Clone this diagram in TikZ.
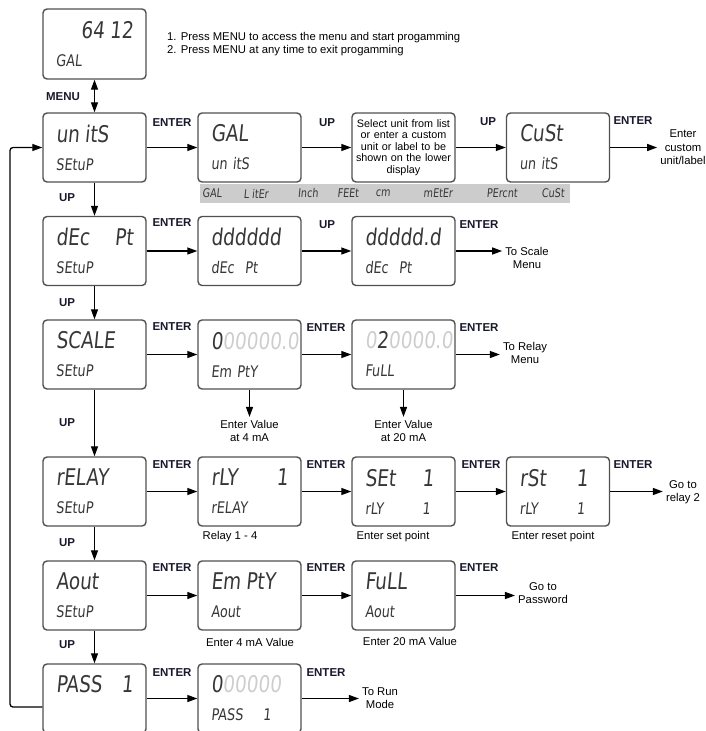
\documentclass[tikz,border=0pt]{standalone}
\usepackage{fontspec}
\setmainfont{Liberation Sans}
\newfontfamily\lcdfont[FakeSlant=0.1,FakeStretch=0.8]{DejaVu Sans}
\usepackage{tikz}
\usetikzlibrary{arrows.meta,positioning}
\definecolor{lcdcolor}{RGB}{55,55,55}
\definecolor{dimcolor}{RGB}{205,205,205}
\definecolor{framecolor}{RGB}{80,80,80}
\definecolor{stripcolor}{RGB}{204,204,204}
\definecolor{keycolor}{RGB}{25,25,45}

\newcommand{\lcdbig}{\fontsize{23}{28}\selectfont}
\newcommand{\lcdsmall}{\fontsize{16}{28}\selectfont}
\newcommand{\dimd}[1]{\textcolor{dimcolor}{#1}}
\newcommand{\lcd}[2]{{\lcdbig #1}\\{\lcdsmall #2}}

\tikzset{
  display/.style={draw=framecolor, line width=1.4pt, rounded corners=4pt,
    minimum width=103pt, minimum height=69pt, text width=77pt, inner sep=0pt,
    align=left, text=lcdcolor, font=\lcdfont\fontsize{16}{28}\selectfont},
  key/.style={font=\fontsize{11.5}{12}\selectfont\bfseries, text=keycolor, inner sep=0pt},
  note/.style={font=\fontsize{11.3}{13.5}\selectfont, align=center, inner sep=3pt},
  flow/.style={line width=1.3pt, -{Triangle[length=10pt,width=7pt]}},
  unitword/.style={font=\lcdfont\fontsize{12}{12}\selectfont, text=lcdcolor, inner sep=0pt},
}

\begin{document}
\begin{tikzpicture}[x=1pt,y=-1pt]
    \clip (0,0) rectangle (706,731);

    % first column
    \node[display, minimum height=70pt] (run) at (94.5,44) {\lcd{\hfill 64 12}{GAL}};
    \node[display] (units) at (94.5,147.5) {\lcd{un itS}{SEtuP}};
    \node[display] (decpt) at (94.5,251) {\lcd{dEc\hfill Pt}{SEtuP}};
    \node[display] (scale) at (94.5,354.5) {\lcd{SCALE}{SEtuP}};
    \node[display] (relay) at (94.5,491.5) {\lcd{rELAY}{SEtuP}};
    \node[display] (aout) at (94.5,595.5) {\lcd{Aout}{SEtuP}};
    \node[display] (pass) at (94.5,698.5) {\lcd{PASS\hfill 1}{\phantom{S}}};

    % second column
    \node[display] (gal) at (249.5,147.5) {\lcd{GAL}{un itS}};
    \node[display] (digits) at (249.5,251) {\lcd{dddddd}{dEc\ \ Pt}};
    \node[display] (empty) at (249.5,354.5) {\lcd{0\dimd{00000.0}}{Em PtY}};
    \node[display] (rlyno) at (249.5,491.5) {\lcd{rLY\hfill 1}{rELAY}};
    \node[display] (aempty) at (249.5,595.5) {\lcd{Em PtY}{Aout}};
    \node[display] (code) at (249.5,698.5) {\lcd{0\dimd{00000}}{\makebox[52pt][l]{PASS}1}};

    % third column
    \node[display, text=black, align=center, text width=103pt, font=\fontsize{10.8}{11.6}\selectfont] (select) at (403.5,147.5)
        {Select unit from list\\or enter a custom\\unit or label to be\\shown on the lower\\display};
    \node[display] (point) at (403.5,251) {\lcd{ddddd.d}{dEc\ \ Pt}};
    \node[display] (full) at (403.5,354.5) {\lcd{\dimd{0}2\dimd{0000.0}}{FuLL}};
    \node[display] (setpt) at (403.5,491.5) {\lcd{\makebox[57pt][l]{SEt}1}{\makebox[57pt][l]{rLY}1}};
    \node[display] (afull) at (403.5,595.5) {\lcd{FuLL}{Aout}};

    % fourth column
    \node[display] (cust) at (558,147.5) {\lcd{CuSt}{un itS}};
    \node[display] (reset) at (558,491.5) {\lcd{\makebox[57pt][l]{rSt}1}{\makebox[57pt][l]{rLY}1}};

    % list of units
    \node[fill=stripcolor, minimum width=370pt, minimum height=19pt, inner sep=0pt] (unitlist) at (385,193.5) {};
    \node[unitword] (ugal) at (212,193.5) {GAL};
    \node[unitword] (uliter) at (256,193.5) {L itEr};
    \node[unitword] (uinch) at (308,193.5) {Inch};
    \node[unitword] (ufeet) at (348,193.5) {FEEt};
    \node[unitword] (ucm) at (383,193.5) {cm};
    \node[unitword] (umeter) at (438,193.5) {mEtEr};
    \node[unitword] (upercent) at (502,193.5) {PErcnt};
    \node[unitword] (ucust) at (553,193.5) {CuSt};

    % texts
    \node[note, align=left, anchor=west, font=\fontsize{11.3}{12.5}\selectfont] (steps) at (164,44)
        {1. Press MENU to access the menu and start progamming\\2. Press MENU at any time to exit progamming};
    \node[note] (custlbl) at (683,147.5) {Enter\\custom\\unit/label};
    \node[note] (toscale) at (527,258) {To Scale\\Menu};
    \node[note] (torelay) at (525,353) {To Relay\\Menu};
    \node[note] (nextrelay) at (683,492) {Go to\\relay 2};
    \node[note] (topass) at (543,593) {Go to\\Password};
    \node[note] (torun) at (380,698) {To Run\\Mode};
    \node[note] (val4) at (249.5,431) {Enter Value\\at 4 mA};
    \node[note] (val20) at (403.5,431) {Enter Value\\at 20 mA};
    \node[note] (relaynote) at (230,537) {Relay 1 - 4};
    \node[note] (setnote) at (393,537) {Enter set point};
    \node[note] (resetnote) at (553,537) {Enter reset point};
    \node[note] (a4note) at (250,642) {Enter 4 mA Value};
    \node[note] (a20note) at (410,641) {Enter 20 mA Value};

    % keys
    \node[key] (kmenu) at (63,97) {MENU};
    \node[key] (k1) at (172,123) {ENTER};
    \node[key] (k2) at (327,123) {UP};
    \node[key] (k3) at (488,122) {UP};
    \node[key] (k4) at (633,121) {ENTER};
    \node[key] (k5) at (172,223) {ENTER};
    \node[key] (k6) at (327,225) {UP};
    \node[key] (k7) at (479,225) {ENTER};
    \node[key] (k8) at (172,327) {ENTER};
    \node[key] (k9) at (326,328) {ENTER};
    \node[key] (k10) at (479,328) {ENTER};
    \node[key] (k11) at (172,465) {ENTER};
    \node[key] (k12) at (326,465) {ENTER};
    \node[key] (k13) at (481,465) {ENTER};
    \node[key] (k14) at (633,465) {ENTER};
    \node[key] (k15) at (172,568) {ENTER};
    \node[key] (k16) at (326,568) {ENTER};
    \node[key] (k17) at (479,568) {ENTER};
    \node[key] (k18) at (172,673) {ENTER};
    \node[key] (k19) at (326,673) {ENTER};
    \node[key] (u1) at (67,198) {UP};
    \node[key] (u2) at (67,303) {UP};
    \node[key] (u3) at (67,423) {UP};
    \node[key] (u4) at (67,543) {UP};
    \node[key] (u5) at (67,645) {UP};

    % arrows down the menu
    \draw[line width=1.3pt, {Triangle[length=10pt,width=7pt]}-{Triangle[length=10pt,width=7pt]}] (run) -- (units);
    \draw[flow] (units) -- (decpt);
    \draw[flow] (decpt) -- (scale);
    \draw[flow] (scale) -- (relay);
    \draw[flow] (relay) -- (aout);
    \draw[flow] (aout) -- (pass);
    \coordinate (loop) at (10,707);
    \draw[flow, rounded corners=3pt] (pass.west |- loop) -- (loop) -- (loop |- units.west) -- (units.west);

    % arrows along the rows
    \draw[flow] (units) -- (gal);
    \draw[flow] (gal) -- (select);
    \draw[flow] (select) -- (cust);
    \draw[flow] (cust) -- (cust -| custlbl.west);
    \draw[flow] (decpt) -- (digits);
    \draw[flow] (digits) -- (point);
    \draw[flow] (point) -- (point -| toscale.west);
    \draw[flow] (scale) -- (empty);
    \draw[flow] (empty) -- (full);
    \draw[flow] (full) -- (full -| torelay.west);
    \draw[flow] (empty) -- (val4);
    \draw[flow] (full) -- (val20);
    \draw[flow] (relay) -- (rlyno);
    \draw[flow] (rlyno) -- (setpt);
    \draw[flow] (setpt) -- (reset);
    \draw[flow] (reset) -- (reset -| nextrelay.west);
    \draw[flow] (aout) -- (aempty);
    \draw[flow] (aempty) -- (afull);
    \draw[flow] (afull) -- (afull -| topass.west);
    \draw[flow] (pass) -- (code);
    \draw[flow] (code) -- (code -| torun.west);
\end{tikzpicture}
\end{document}
